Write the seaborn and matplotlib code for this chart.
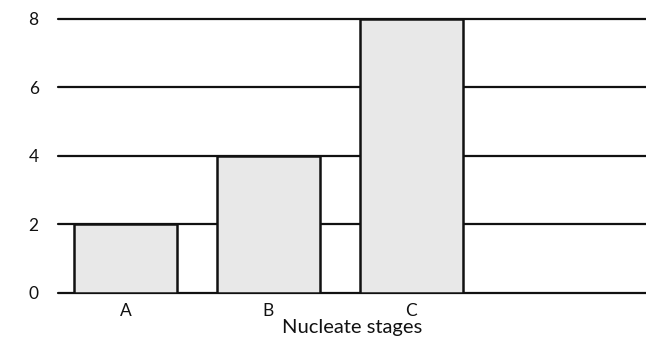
import matplotlib
matplotlib.use('Agg')
import matplotlib.pyplot as plt
import seaborn as sns
import pandas as pd

# values
stages = ['A', 'B', 'C']
counts = [2, 4, 8]
yticks = [0, 2, 4, 6, 8]

df = pd.DataFrame({'stage': stages, 'count': counts})

sns.set_theme(style='white')
plt.rcParams['font.family'] = ['Lato', 'DejaVu Sans']

fig = plt.figure(figsize=(6.46, 3.43), dpi=100)
ax = fig.add_axes([0.09, 0.146, 0.91, 0.80])

# horizontal rules behind the bars
for yv in yticks:
    ax.axhline(yv, color='#111111', lw=1.6, zorder=0, clip_on=False)

sns.barplot(data=df, x='stage', y='count', color='#e8e8e8', width=0.72,
            edgecolor='#111111', linewidth=1.8, saturation=1, ax=ax, zorder=2)

ax.set_xlim(-0.47, 3.64)
ax.set_ylim(0, 8)
ax.set_yticks(yticks)
ax.tick_params(axis='both', length=0, labelsize=12.5, colors='#111111')
ax.tick_params(axis='y', pad=14)
ax.tick_params(axis='x', pad=7)
ax.set_ylabel('')
ax.set_xlabel('Nucleate stages', fontsize=14.5, color='#111111', labelpad=0)
for s in ax.spines.values():
    s.set_visible(False)

fig.savefig('out.png', dpi=100)
